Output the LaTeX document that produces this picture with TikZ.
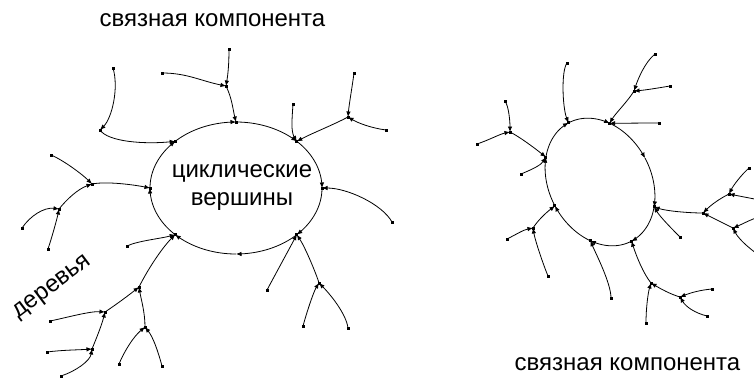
\documentclass[tikz,border=0pt]{standalone}
\usepackage{fontspec}
\setmainfont{Liberation Sans}
\usetikzlibrary{arrows.meta}
\begin{document}
\begin{tikzpicture}[x=1pt,y=-1pt,
  edge/.style={line width=0.8pt,-{Latex[length=5.5pt,width=4.5pt]}},
  cyc/.style={line width=0.8pt,-{Latex[length=5.5pt,width=4.5pt]}},
  lbl/.style={font=\fontsize{24}{28}\selectfont, inner sep=0pt}]
\useasboundingbox (0,0) rectangle (754,378);
\clip (0,0) rectangle (754,378);
% ---------- left component: cycle ----------
\foreach \i/\a in {0/90,1/45,2/0,3/-45,4/-90,5/-135,6/-180,7/-225}
  \coordinate (L\i) at ({236+86*cos(\a)},{188-66*sin(\a)});
\foreach \a [evaluate=\a as \b using \a-45] in {90,45,0,-45,-90,-135,-180,-225}
  \draw[cyc] plot[domain=\a:\b, samples=24, smooth] ({236+86*cos(\x)},{188-66*sin(\x)});
% ---------- right component: cycle (rotated ellipse) ----------
\foreach \i/\a in {0/90,1/45,2/0,3/-45,4/-90,5/-135,6/-180,7/-225}
  \coordinate (R\i) at ({600+51*cos(\a)*cos(28)-67*sin(\a)*sin(28)},{182-(51*cos(\a)*sin(28)+67*sin(\a)*cos(28))});
\foreach \a [evaluate=\a as \b using \a-45] in {90,45,0,-45,-90,-135,-180,-225}
  \draw[cyc] plot[domain=\a:\b, samples=24, smooth] ({600+51*cos(\x)*cos(28)-67*sin(\x)*sin(28)},{182-(51*cos(\x)*sin(28)+67*sin(\x)*cos(28))});
% ---------- left trees: points ----------
\coordinate (A) at (226,86);  \coordinate (a1) at (229,49); \coordinate (a2) at (162,73);
\coordinate (B) at (100,130); \coordinate (b1) at (113,68);
\coordinate (C) at (92,184);  \coordinate (c1) at (51,155);
\coordinate (D) at (59,209);  \coordinate (d1) at (22,228); \coordinate (d2) at (48,249);
\coordinate (e0) at (127,246);\coordinate (E) at (139,287);
\coordinate (F) at (105,312); \coordinate (G) at (145,327);
\coordinate (f1) at (50,321); \coordinate (H) at (92,349);
\coordinate (h1) at (47,352); \coordinate (h2) at (61,376);
\coordinate (g1) at (119,364);\coordinate (g2) at (162,366);
\coordinate (r1) at (392,222);
\coordinate (u1) at (293,104);\coordinate (J) at (348,117);
\coordinate (j1) at (354,73); \coordinate (j2) at (386,130);
\coordinate (l1) at (267,290);\coordinate (I) at (319,283);
\coordinate (i1) at (303,326);\coordinate (i2) at (348,328);
% ---------- right trees: points ----------
\coordinate (p0) at (567,63);
\coordinate (K) at (634,91);  \coordinate (k1) at (655,54); \coordinate (k2) at (670,86);
\coordinate (p1) at (659,123);
\coordinate (M) at (703,213); \coordinate (m1) at (680,237);
\coordinate (N) at (729,194); \coordinate (O) at (733,228);
\coordinate (n1) at (749,168);\coordinate (n2) at (775,203);
\coordinate (o1) at (775,214);\coordinate (o2) at (770,262);
\coordinate (Q) at (651,283); \coordinate (q1) at (646,323);
\coordinate (S) at (680,297); \coordinate (s1) at (712,289); \coordinate (s2) at (707,316);
\coordinate (p5) at (611,298);
\coordinate (U) at (533,228); \coordinate (u3) at (507,239); \coordinate (u4) at (548,276);
\coordinate (V) at (510,132); \coordinate (v1) at (505,101); \coordinate (v2) at (477,144);
\coordinate (p7) at (521,174);
% ---------- left tree edges ----------
\draw[edge] (A) .. controls +(6,12) and +(-3,-12) .. (L0);
\draw[edge] (a1) .. controls +(0,15) and +(2,-12) .. (A);
\draw[edge] (a2) .. controls +(25,0) and +(-25,-5) .. (A);
\draw[edge] (B) .. controls +(8,12) and +(-30,3) .. (L7);
\draw[edge] (b1) .. controls +(6,20) and +(12,-12) .. (B);
\draw[edge] (C) .. controls +(15,-3) and +(-15,-3) .. (L6);
\draw[edge] (c1) .. controls +(12,5) and +(-10,-10) .. (C);
\draw[edge] (D) .. controls +(8,-10) and +(-14,5) .. (C);
\draw[edge] (d1) .. controls +(8,-12) and +(-15,-2) .. (D);
\draw[edge] (d2) .. controls +(4,-12) and +(-2,10) .. (D);
\draw[edge] (e0) .. controls +(10,-5) and +(-15,4) .. (L5);
\draw[edge] (E) .. controls +(10,-20) and +(-12,12) .. (L5);
\draw[edge] (F) .. controls +(12,-8) and +(-10,8) .. (E);
\draw[edge] (G) .. controls +(0,-15) and +(2,12) .. (E);
\draw[edge] (f1) .. controls +(15,-3) and +(-15,-1) .. (F);
\draw[edge] (H) .. controls +(5,-12) and +(-3,12) .. (F);
\draw[edge] (h1) .. controls +(15,-2) and +(-15,1) .. (H);
\draw[edge] (h2) .. controls +(15,-5) and +(-2,12) .. (H);
\draw[edge] (g1) .. controls +(5,-12) and +(-12,10) .. (G);
\draw[edge] (g2) .. controls +(-4,-15) and +(8,10) .. (G);
\draw[edge] (r1) .. controls +(-10,-18) and +(25,0) .. (L2);
\draw[edge] (u1) .. controls +(-1,15) and +(-6,-10) .. (L1);
\draw[edge] (J) .. controls +(-15,8) and +(15,-8) .. (L1);
\draw[edge] (j1) .. controls +(-2,15) and +(1,-12) .. (J);
\draw[edge] (j2) .. controls +(-15,-2) and +(10,6) .. (J);
\draw[edge] (l1) .. controls +(8,-15) and +(-8,15) .. (L3);
\draw[edge] (I) .. controls +(-3,-10) and +(8,12) .. (L3);
\draw[edge] (i1) .. controls +(5,-18) and +(-5,8) .. (I);
\draw[edge] (i2) .. controls +(-2,-15) and +(10,10) .. (I);
% ---------- right tree edges ----------
\draw[edge] (p0) .. controls +(-6,8) and +(-6,-15) .. (R0);
\draw[edge] (K) .. controls +(-6,10) and +(6,-10) .. (R1);
\draw[edge] (k1) .. controls +(-10,8) and +(4,-12) .. (K);
\draw[edge] (k2) .. controls +(-12,2) and +(12,-1) .. (K);
\draw[edge] (p1) .. controls +(-15,0) and +(15,0) .. (R1);
\draw[edge] (M) .. controls +(-15,0) and +(12,4) .. (R3);
\draw[edge] (m1) .. controls +(-8,-8) and +(6,10) .. (R3);
\draw[edge] (N) .. controls +(-10,5) and +(8,-8) .. (M);
\draw[edge] (O) .. controls +(-10,-5) and +(10,5) .. (M);
\draw[edge] (n1) .. controls +(-8,7) and +(4,-8) .. (N);
\draw[edge] (n2) .. controls +(-15,-3) and +(15,3) .. (N);
\draw[edge] (o1) .. controls +(-15,0) and +(12,-5) .. (O);
\draw[edge] (o2) .. controls +(-15,-8) and +(6,12) .. (O);
\draw[edge] (Q) .. controls +(-8,-10) and +(5,15) .. (R4);
\draw[edge] (q1) .. controls +(0,-15) and +(-3,10) .. (Q);
\draw[edge] (S) .. controls +(-10,-3) and +(10,6) .. (Q);
\draw[edge] (s1) .. controls +(-12,1) and +(10,-4) .. (S);
\draw[edge] (s2) .. controls +(-12,-3) and +(6,10) .. (S);
\draw[edge] (p5) .. controls +(0,-15) and +(5,12) .. (R5);
\draw[edge] (U) .. controls +(5,-8) and +(-8,6) .. (R6);
\draw[edge] (u3) .. controls +(10,-5) and +(-10,2) .. (U);
\draw[edge] (u4) .. controls +(-5,-12) and +(2,12) .. (U);
\draw[edge] (V) .. controls +(10,5) and +(-10,-8) .. (R7);
\draw[edge] (v1) .. controls +(4,6) and +(0,-10) .. (V);
\draw[edge] (v2) .. controls +(12,-4) and +(-10,2) .. (V);
\draw[edge] (p7) .. controls +(12,-5) and +(-5,8) .. (R7);
% ---------- vertex dots ----------
\foreach \p in {L0,L1,L2,L3,L5,L6,L7,A,a1,a2,B,b1,C,c1,D,d1,d2,e0,E,F,G,f1,H,h1,h2,g1,g2,r1,u1,J,j1,j2,l1,I,i1,i2,
  R0,R1,R3,R4,R5,R6,R7,p0,K,k1,k2,p1,M,m1,N,O,n1,Q,q1,S,s1,s2,p5,U,u3,u4,V,v1,v2,p7}
  \fill (\p) ++(-1.5,-1.5) rectangle ++(3,3);
% ---------- labels ----------
\node[lbl, anchor=base] (t1) at (242,177) {циклические};
\node[lbl, anchor=base] (t2) at (242,205) {вершины};
\node[lbl, anchor=base] (top) at (212.5,26) {связная компонента};
\node[lbl, anchor=base] (bot) at (627.5,370) {связная компонента};
\node[lbl, rotate=37] (tr) at (53,288) {деревья};
\end{tikzpicture}
\end{document}
